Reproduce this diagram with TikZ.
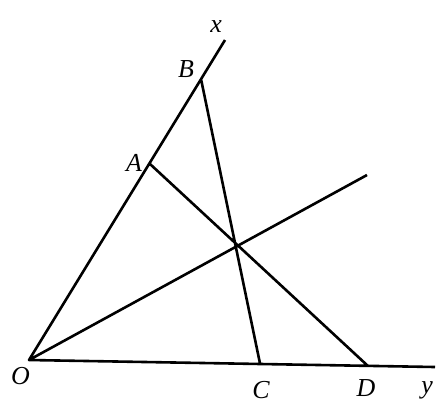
\documentclass[tikz,border=0pt]{standalone}
\usepackage{fontspec}
\setmainfont{Liberation Serif}
\usetikzlibrary{positioning}
\tikzset{
x=1bp, y=-1bp, % picture units follow the image, y going down
seg/.style={line width=2.6bp, line join=round}, % the segments of the figure
lbl/.style={font=\fontsize{26}{26}\selectfont\itshape, inner sep=0pt}, % point labels
}
\begin{document}
\begin{tikzpicture}
    \useasboundingbox (0,0) rectangle (448,413);
    % points
    \coordinate (O) at (29,360);
    \coordinate (xe) at (225,40);
    \coordinate (ye) at (435,367);
    \coordinate (B) at (201,79);
    \coordinate (A) at (150,164);
    \coordinate (C) at (260,363.5);
    \coordinate (D) at (368,366);
    \coordinate (be) at (367,175);

    % labels
    \node[lbl] (lx) at (216,27) {x};
    \node[lbl] (ly) at (427,390) {y};
    \node[lbl] (lO) at (20.5,376) {O};
    \node[lbl] (lA) at (134,163) {A};
    \node[lbl] (lB) at (186,69) {B};
    \node[lbl] (lC) at (261,390) {C};
    \node[lbl] (lD) at (366,388) {D};

    \draw[seg] (xe) -- (O) -- (ye)
               (O) -- (be)
               (A) -- (D)
               (B) -- (C);
\end{tikzpicture}
\end{document}
